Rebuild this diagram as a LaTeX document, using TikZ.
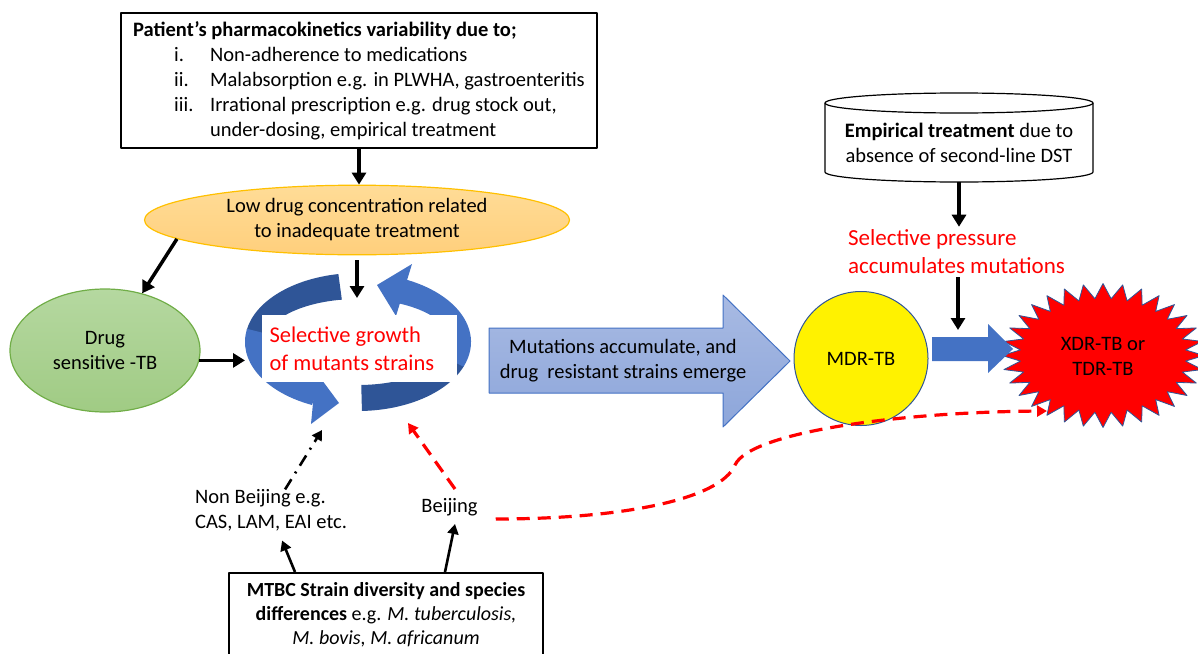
\documentclass[tikz,border=0pt]{standalone}
\usepackage{fontspec}
\setmainfont{Carlito}
\usetikzlibrary{arrows.meta,shapes.geometric}
\definecolor{ringblue}{HTML}{4472C4}
\definecolor{ringdark}{HTML}{2F5597}
\definecolor{lowtop}{HTML}{FFDC97}
\definecolor{lowbot}{HTML}{FFCF7C}
\definecolor{lowedge}{HTML}{FFC000}
\definecolor{dstop}{HTML}{B5D8A0}
\definecolor{dsbot}{HTML}{A0CB84}
\definecolor{dsedge}{HTML}{70AD47}
\definecolor{bigtop}{HTML}{A8BAE3}
\definecolor{bigbot}{HTML}{8DA6DA}
\begin{document}
\begin{tikzpicture}[x=1pt, y=1pt, line join=round, >={Triangle[length=12pt,width=14pt]},
	font=\fontsize{20.5}{25}\selectfont,
	arr/.style={->, line width=3.5pt},
	smallarr/.style={-{Triangle[length=10pt,width=11pt]}, line width=2.6pt},
	box/.style={draw, line width=2pt, fill=white},
	redtext/.style={text=red, align=left},
	reddash/.style={smallarr, red, line width=3.2pt, dash pattern=on 13pt off 8pt}]
	\useasboundingbox (0,0) rectangle (1198,-653);
	\path (245,-360) coordinate (ringW) (357,-298) coordinate (ringN) (322,-430) coordinate (ringSL)
	(408,-423) coordinate (ringSR) (958,-330) coordinate (shafttop) (1047,-411) coordinate (xdrtip);
	% circular arrows
	\begin{scope}[shift={(358,-342)}]
		\fill[ringdark] (100:113 and 69) arc[start angle=100, end angle=170, x radius=113, y radius=69]
		-- (170:93 and 43) arc[start angle=170, end angle=100, x radius=93, y radius=43] -- cycle;
		\fill[ringblue] (169:113 and 69) arc[start angle=169, end angle=246, x radius=113, y radius=69]
		-- (246:93 and 43) arc[start angle=246, end angle=169, x radius=93, y radius=43] -- cycle;
		\fill[ringblue] (-47,-82) -- (-19,-61) -- (-42,-30) -- cycle;
		\fill[ringdark] (-88:113 and 69) arc[start angle=-88, end angle=-20, x radius=113, y radius=69]
		-- (-20:93 and 43) arc[start angle=-20, end angle=-88, x radius=93, y radius=43] -- cycle;
		\fill[ringblue] (-21:113 and 69) arc[start angle=-21, end angle=66, x radius=113, y radius=69]
		-- (66:93 and 43) arc[start angle=66, end angle=-21, x radius=93, y radius=43] -- cycle;
		\fill[ringblue] (54,78) -- (19,57) -- (38,26) -- cycle;
	\end{scope}
	\node[fill=white, text width=180pt, inner xsep=7.5pt, minimum height=67pt, redtext, align=flush left, font=\fontsize{22.5}{28}\selectfont] (growth) at (359.5,-348.5) {Selective growth\\of mutants strains};

	\node[box, line width=2.2pt, minimum width=476pt, minimum height=135pt, align=left] (pk) at (359,-80.5) {\textbf{Patient’s pharmacokinetics variability due to;}\\
		\hspace*{41pt}\makebox[36pt][l]{i.}Non-adherence to medications\\
		\hspace*{41pt}\makebox[36pt][l]{ii.}Malabsorption e.g. in PLWHA, gastroenteritis\\
		\hspace*{41pt}\makebox[36pt][l]{iii.}Irrational prescription e.g. drug stock out,\\
		\hspace*{77pt}under-dosing, empirical treatment};
	\node[ellipse, draw=lowedge, line width=1.2pt, top color=lowtop, bottom color=lowbot, minimum width=425pt, minimum height=65pt, align=center] (lowdrug) at (357,-220) {Low drug concentration related\\to inadequate treatment};
	\node[ellipse, draw=dsedge, line width=1.2pt, top color=dstop, bottom color=dsbot, minimum width=190pt, minimum height=123pt, align=center] (dstb) at (105,-350.5) {Drug\\sensitive -TB};

	% big arrow
	\draw[draw=ringblue, line width=1pt, top color=bigtop, bottom color=bigbot] (489,-328) -- (723,-328) -- (723,-295) -- (790,-361)
	-- (723,-427) -- (723,-393) -- (489,-393) -- cycle;
	\node[align=center] (bigtext) at (623,-360.5) {Mutations accumulate, and\\drug~ resistant strains emerge};

	\node[circle, draw=ringdark, line width=1pt, fill=yellow, minimum size=134pt] (mdr) at (861,-358.5) {MDR-TB};
	\fill[red, draw=ringdark, line width=0.8pt, shift={(1103,-355.5)}] plot[samples at={0,...,63}, variable=\k]
	({(101-18*mod(\k,2))*cos(5.625*\k)}, {(72-15*mod(\k,2))*sin(5.625*\k)}) -- cycle;
	\node[align=center] (xdr) at (1103,-356.5) {XDR-TB or\\TDR-TB};
	\fill[ringblue] (932,-337) -- (988,-337) -- (988,-324) -- (1013,-349) -- (988,-373) -- (988,-361) -- (932,-361) -- cycle;

	% cylinder
	\draw[line width=1.2pt, fill=white] (825,-103) -- (825,-172) arc[start angle=180, end angle=360, x radius=134, y radius=10]
	-- (1093,-103) arc[start angle=0, end angle=180, x radius=134, y radius=10] -- cycle;
	\draw[line width=1.2pt] (825,-103) arc[start angle=180, end angle=360, x radius=134, y radius=10];
	\node[minimum height=79pt, align=center] (emp) at (959,-142.5) {\textbf{Empirical treatment} due to\\absence of second-line DST};
	\node[redtext, inner sep=3pt, font=\fontsize{23}{28}\selectfont] (press) at (956.5,-252) {Selective pressure\\accumulates mutations};

	\node[anchor=west, align=left, inner sep=0pt] (nonbj) at (195,-510.5) {Non Beijing e.g.\\CAS, LAM, EAI etc.};
	\node[inner sep=0pt] (bj) at (449.5,-507) {Beijing};
	\node[box, minimum width=314pt, minimum height=84pt, align=center, font=\fontsize{20}{24}\selectfont] (mtbc) at (386,-615) {\textbf{MTBC Strain diversity and species}\\
		\textbf{differences} e.g. \textit{M. tuberculosis,}\\ \textit{M. bovis, M. africanum}};

	% connectors
	\draw[arr] (pk.south) -- (pk.south |- lowdrug.north);
	\draw[arr] (lowdrug.186) -- (dstb.57);
	\draw[arr, shorten <=5pt] (lowdrug.south) -- (ringN);
	\draw[arr] (dstb.-6) -- (dstb.-6 -| ringW);
	\draw[arr] (emp.south) -- (emp.south |- press.north);
	\draw[arr] (press.south -| shafttop) -- (shafttop);
	\draw[smallarr] ([xshift=-91pt]mtbc.north) -- ([xshift=11pt,yshift=-9pt]nonbj.south);
	\draw[smallarr] ([xshift=59pt]mtbc.north) -- ([xshift=5.5pt,yshift=-8pt]bj.south);
	\draw[smallarr, dash pattern=on 12pt off 7pt on 2pt off 7pt] ([xshift=14pt]nonbj.north) -- (ringSL);
	\draw[reddash] ([xshift=5.5pt,yshift=9pt]bj.north) -- (ringSR);
	\draw[reddash] ([xshift=18pt,yshift=-12pt]bj.east) .. controls (620,-519) and (720,-500) .. (735,-465)
	.. controls (750,-432) and (900,-412) .. (xdrtip);
\end{tikzpicture}
\end{document}
